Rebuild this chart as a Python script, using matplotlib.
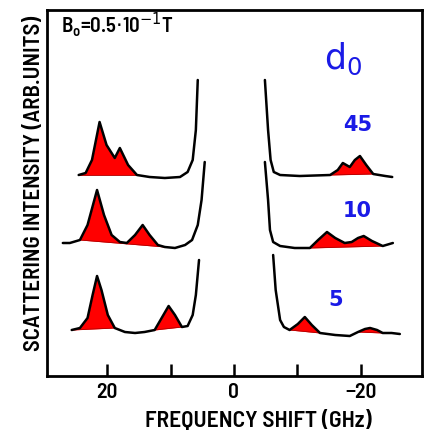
import matplotlib
matplotlib.use("Agg")
import matplotlib.pyplot as plt
import numpy as np

# ---- data (x: frequency shift in GHz, y: intensity in arb. units) ----
# d0 = 45 (top trace)
top_left_x = [24.5, 23.4, 22.4, 21.2, 20.1, 18.8, 18.0, 16.7, 15.3, 13.3, 10.9, 8.5, 7.3, 6.5, 6.0, 5.7]
top_left_y = [201, 203, 216, 254, 231, 218, 228, 211, 201, 199, 198, 199, 204, 216, 246, 296]
top_right_x = [-4.9, -5.4, -5.8, -6.3, -7.3, -10.4, -15.2, -16.4, -17.2, -18.3, -19.1, -19.9, -20.9, -22.0, -23.9, -25.0]
top_right_y = [296, 246, 216, 204, 201, 200, 201, 206, 213, 209, 216, 220, 211, 202, 200, 199]
top_fills = [(24.5, 15.3), (-15.2, -22.0)]

# d0 = 10 (middle trace)
mid_left_x = [27.0, 25.9, 24.3, 23.1, 21.6, 20.5, 19.3, 18.0, 16.9, 15.6, 14.4, 13.3, 12.0, 10.9, 9.3, 7.7, 6.6, 5.7, 5.1, 4.6]
mid_left_y = [133, 133, 136, 151, 186, 161, 141, 134, 133, 141, 151, 141, 131, 129, 128, 131, 136, 151, 176, 214]
mid_right_x = [-4.9, -5.4, -5.7, -6.2, -7.3, -9.6, -12.0, -13.3, -14.7, -16.0, -17.5, -18.6, -19.6, -20.5, -21.8, -23.5, -25.1]
mid_right_y = [214, 176, 146, 134, 130, 128, 128, 136, 144, 138, 133, 134, 138, 140, 135, 130, 133]
mid_fills = [(24.3, 10.9), (-12.0, -23.5)]

# d0 = 5 (bottom trace)
bot_left_x = [25.6, 24.3, 23.1, 22.3, 21.6, 20.9, 19.9, 18.8, 17.2, 15.6, 14.1, 12.5, 11.4, 10.3, 9.3, 8.2, 7.3, 6.5, 6.0, 5.5]
bot_left_y = [46, 48, 58, 81, 100, 86, 61, 48, 44, 43, 44, 46, 58, 70, 61, 49, 50, 61, 81, 116]
bot_right_x = [-6.2, -6.6, -7.3, -7.9, -8.8, -10.1, -11.2, -12.3, -13.6, -16.0, -18.3, -19.6, -20.7, -21.5, -22.6, -23.5, -24.9, -26.2]
bot_right_y = [121, 86, 56, 49, 46, 52, 59, 51, 43, 41, 40, 44, 47, 48, 46, 43, 43, 42]
bot_fills = [(25.6, 18.8), (12.5, 8.2), (-8.8, -13.6), (-19.6, -23.5)]

d0_labels = ["45", "10", "5"]
tick_pos = [20, 10, 0, -10, -20]
tick_labels = ["20", "", "0", "", "\u221220"]

BLUE = "#1a1ae6"
RED = "#ff0000"
FONT = ["Barlow Semi Condensed", "Barlow Condensed", "DejaVu Sans"]

fig = plt.figure(figsize=(4.27, 4.37), dpi=100)
ax = fig.add_axes([47/427, 61/437, 375/427, 366/437])
ax.set_xlim(29.5, -29.7)
ax.set_ylim(0, 366)


def draw_part(xs, ys, fills):
    xs = np.asarray(xs, float)
    ys = np.asarray(ys, float)
    for a, b in fills:
        lo, hi = min(a, b), max(a, b)
        m = (xs >= lo - 1e-9) & (xs <= hi + 1e-9)
        px, py = xs[m], ys[m]
        order = np.argsort(px)
        px, py = px[order], py[order]
        base = np.interp(px, [px[0], px[-1]], [py[0], py[-1]])
        ax.fill_between(px, py, base, color=RED, linewidth=0, zorder=1)
        ax.plot([px[0], px[-1]], [py[0], py[-1]], color="#b00000", lw=0.6, zorder=1)
    ax.plot(xs, ys, color="black", lw=1.8, zorder=2, solid_joinstyle="round",
            solid_capstyle="round")


def split_fills(fills, side):
    return [f for f in fills if (f[0] > 0) == (side > 0)]


for lx, ly, rx, ry, fl in [
    (top_left_x, top_left_y, top_right_x, top_right_y, top_fills),
    (mid_left_x, mid_left_y, mid_right_x, mid_right_y, mid_fills),
    (bot_left_x, bot_left_y, bot_right_x, bot_right_y, bot_fills),
]:
    draw_part(lx, ly, split_fills(fl, 1))
    draw_part(rx, ry, split_fills(fl, -1))

for s in ax.spines.values():
    s.set_linewidth(2.0)
ax.set_yticks([])
ax.set_xticks(tick_pos)
ax.set_xticklabels(tick_labels, family=FONT, fontsize=15.5, fontweight=600)
ax.tick_params(axis="x", direction="in", length=9, width=1.8, pad=5)

# labels
fig.text(258/427, 1 - 420/437, "FREQUENCY SHIFT (GHz)", ha="center", va="center",
         family=FONT, fontsize=17, fontweight=600)
fig.text(34/427, 1 - 183/437, "SCATTERING INTENSITY (ARB.UNITS)", ha="center", va="center",
         rotation=90, family=FONT, fontsize=16.5, fontweight=600)

# annotations
ax.text(27.3, 351, r"B$_\mathregular{o}$=0.5$\cdot$10$^{-1}$T", ha="left", va="center",
        family=FONT, fontsize=15, fontweight=600)
ax.text(-14.3, 317, r"d$_\mathregular{0}$", ha="left", va="center", color=BLUE,
        fontsize=25, family=["DejaVu Sans"])
label_pos = [(-19.5, 251), (-19.5, 165), (-16.0, 76)]
for lab, (x, y) in zip(d0_labels, label_pos):
    ax.text(x, y, lab, ha="center", va="center", color=BLUE, fontsize=15,
            fontweight="bold", family=["DejaVu Sans"])

fig.savefig("out.png", dpi=100)
